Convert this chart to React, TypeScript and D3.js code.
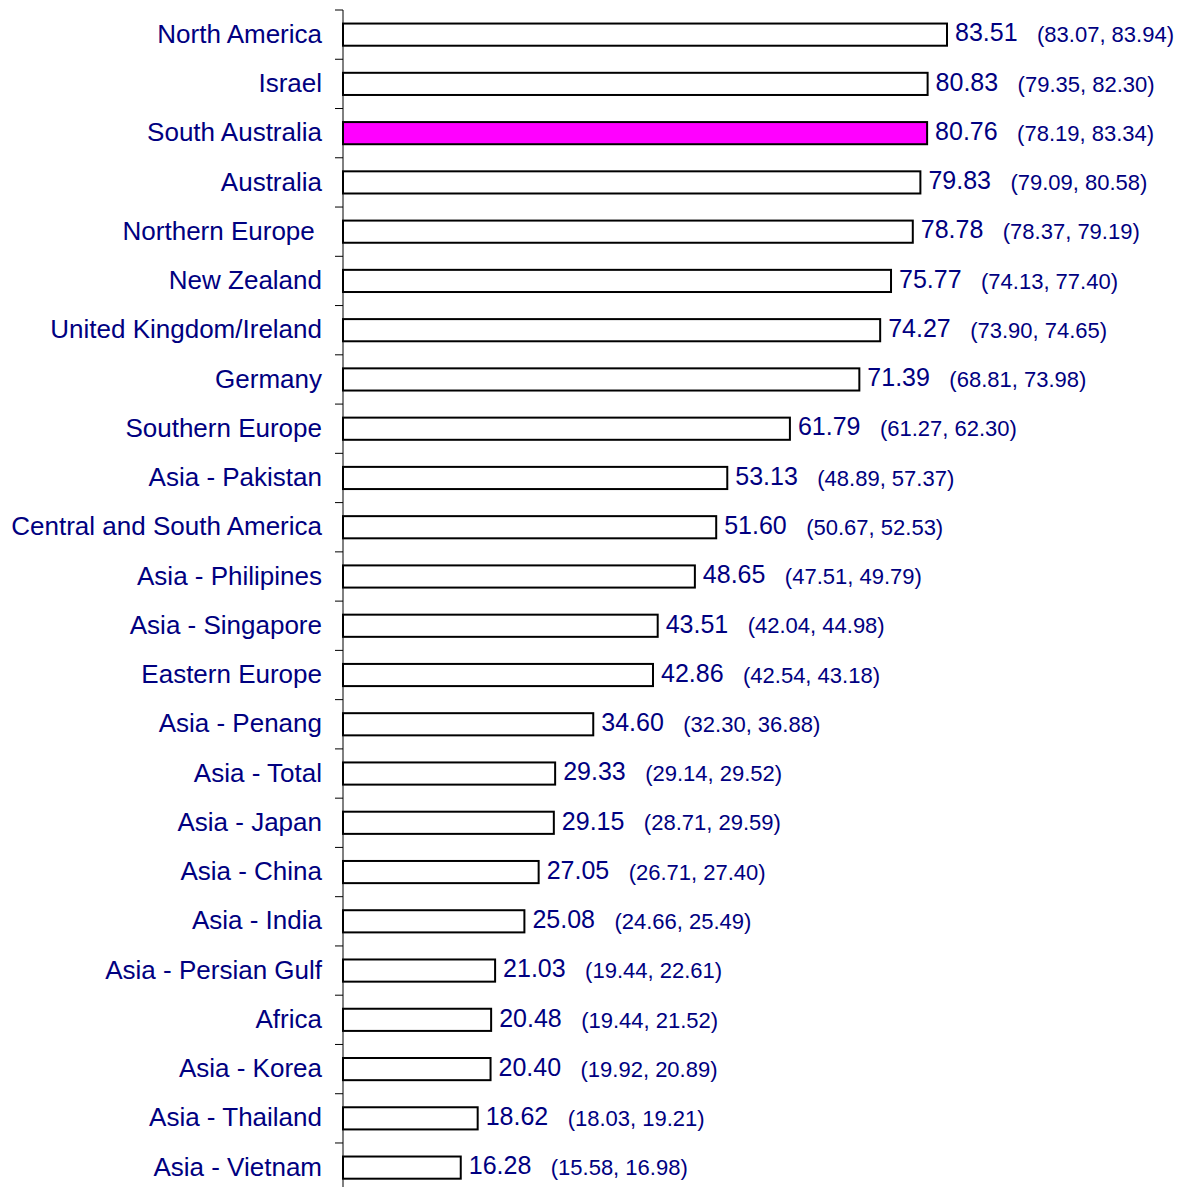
import React, { useEffect, useRef } from 'react';
import * as d3 from 'd3';

// Category names, top to bottom
const regions = [
  'North America', 'Israel', 'South Australia', 'Australia', 'Northern Europe ',
  'New Zealand', 'United Kingdom/Ireland', 'Germany', 'Southern Europe', 'Asia - Pakistan',
  'Central and South America', 'Asia - Philipines', 'Asia - Singapore', 'Eastern Europe',
  'Asia - Penang', 'Asia - Total', 'Asia - Japan', 'Asia - China', 'Asia - India',
  'Asia - Persian Gulf', 'Africa', 'Asia - Korea', 'Asia - Thailand', 'Asia - Vietnam',
];

const values = [
  83.51, 80.83, 80.76, 79.83, 78.78, 75.77, 74.27, 71.39, 61.79, 53.13, 51.6, 48.65,
  43.51, 42.86, 34.6, 29.33, 29.15, 27.05, 25.08, 21.03, 20.48, 20.4, 18.62, 16.28,
];

const lower = [
  83.07, 79.35, 78.19, 79.09, 78.37, 74.13, 73.9, 68.81, 61.27, 48.89, 50.67, 47.51,
  42.04, 42.54, 32.3, 29.14, 28.71, 26.71, 24.66, 19.44, 19.44, 19.92, 18.03, 15.58,
];

const upper = [
  83.94, 82.3, 83.34, 80.58, 79.19, 77.4, 74.65, 73.98, 62.3, 57.37, 52.53, 49.79,
  44.98, 43.18, 36.88, 29.52, 29.59, 27.4, 25.49, 22.61, 21.52, 20.89, 19.21, 16.98,
];

const highlight = 'South Australia';

const App = () => {
  const svgRef = useRef<SVGSVGElement>(null);

  useEffect(() => {
    const svg = d3.select(svgRef.current);
    svg.selectAll('*').remove();

    const height = 1187;
    const x0 = 343;
    const navy = '#000080';
    const font = 'Arial, "Liberation Sans", sans-serif';

    const x = d3.scaleLinear().domain([0, 83.51]).range([x0, 947]);
    const y = d3
      .scaleBand()
      .domain(regions)
      .range([10, 10 + 49.26 * regions.length])
      .paddingInner(0.55)
      .paddingOuter(0.275);

    const rows = regions.map((r, i) => ({ r, v: values[i], lo: lower[i], hi: upper[i] }));

    // axis line with ticks at band edges
    const g = svg.append('g');
    g.append('line')
      .attr('x1', x0).attr('x2', x0)
      .attr('y1', 10).attr('y2', height + 20)
      .attr('stroke', '#000').attr('stroke-width', 1);
    const step = y.step();
    g.selectAll('line.tick')
      .data(d3.range(regions.length + 1))
      .enter()
      .append('line')
      .attr('class', 'tick')
      .attr('x1', x0 - 8).attr('x2', x0)
      .attr('y1', (i) => 10 + i * step)
      .attr('y2', (i) => 10 + i * step)
      .attr('stroke', '#000');

    svg
      .selectAll('rect')
      .data(rows)
      .enter()
      .append('rect')
      .attr('x', x0)
      .attr('y', (d) => y(d.r)!)
      .attr('width', (d) => x(d.v) - x0)
      .attr('height', y.bandwidth())
      .attr('fill', (d) => (d.r === highlight ? '#ff00ff' : '#fff'))
      .attr('stroke', '#000')
      .attr('stroke-width', 2);

    const cy = (d: { r: string }) => y(d.r)! + y.bandwidth() / 2;

    svg
      .selectAll('text.cat')
      .data(rows)
      .enter()
      .append('text')
      .attr('class', 'cat')
      .attr('x', 322)
      .attr('y', (d) => cy(d) - 1)
      .attr('dy', '0.35em')
      .attr('text-anchor', 'end')
      .attr('font-family', font)
      .attr('font-size', 26)
      .attr('fill', navy)
      .style('white-space', 'pre')
      .text((d) => d.r);

    svg
      .selectAll('text.val')
      .data(rows)
      .enter()
      .append('text')
      .attr('class', 'val')
      .attr('x', (d) => x(d.v) + 8)
      .attr('y', (d) => cy(d) - 2)
      .attr('dy', '0.35em')
      .attr('font-family', font)
      .attr('font-size', 25)
      .attr('fill', navy)
      .text((d) => d.v.toFixed(2));

    svg
      .selectAll('text.ci')
      .data(rows)
      .enter()
      .append('text')
      .attr('class', 'ci')
      .attr('x', (d) => x(d.v) + 90)
      .attr('y', cy)
      .attr('dy', '0.35em')
      .attr('font-family', font)
      .attr('font-size', 22)
      .attr('fill', navy)
      .text((d) => `(${d.lo.toFixed(2)}, ${d.hi.toFixed(2)})`);
  }, []);

  return (
    <svg
      ref={svgRef}
      width={1178}
      height={1187}
      style={{ position: 'absolute', left: 0, top: 0, background: '#fff' }}
    ></svg>
  );
};

export default App;
